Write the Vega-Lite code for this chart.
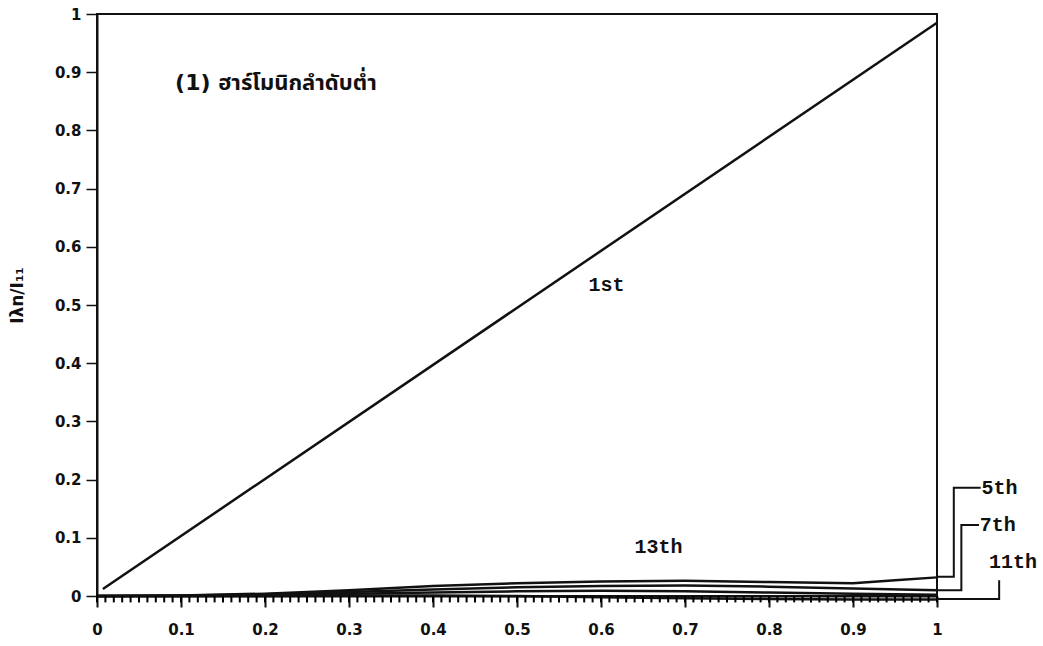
{
  "$schema": "https://vega.github.io/schema/vega-lite/v6.json",
  "width": 840,
  "height": 582,
  "autosize": "none",
  "padding": {"left": 97, "top": 14, "right": 106, "bottom": 50},
  "background": "white",
  "config": {
    "view": {"stroke": "#111", "strokeWidth": 2},
    "axis": {"labelFont": "DejaVu Sans", "labelFontWeight": "bold", "labelColor": "#111", "tickColor": "#111", "domainColor": "#111", "grid": false}
  },
  "datasets": {
    "curves": [
      {"series": "1st", "x": 0.007, "y": 0.012},
      {"series": "1st", "x": 1.0, "y": 0.985},
      {"series": "5th", "x": 0.0, "y": 0.0},
      {"series": "5th", "x": 0.1, "y": 0.001},
      {"series": "5th", "x": 0.2, "y": 0.004},
      {"series": "5th", "x": 0.3, "y": 0.01},
      {"series": "5th", "x": 0.4, "y": 0.017},
      {"series": "5th", "x": 0.5, "y": 0.022},
      {"series": "5th", "x": 0.6, "y": 0.025},
      {"series": "5th", "x": 0.7, "y": 0.026},
      {"series": "5th", "x": 0.8, "y": 0.024},
      {"series": "5th", "x": 0.9, "y": 0.022},
      {"series": "5th", "x": 0.95, "y": 0.027},
      {"series": "5th", "x": 1.0, "y": 0.032},
      {"series": "7th", "x": 0.0, "y": 0.0},
      {"series": "7th", "x": 0.1, "y": 0.001},
      {"series": "7th", "x": 0.2, "y": 0.003},
      {"series": "7th", "x": 0.3, "y": 0.007},
      {"series": "7th", "x": 0.4, "y": 0.011},
      {"series": "7th", "x": 0.5, "y": 0.015},
      {"series": "7th", "x": 0.6, "y": 0.017},
      {"series": "7th", "x": 0.7, "y": 0.018},
      {"series": "7th", "x": 0.8, "y": 0.016},
      {"series": "7th", "x": 0.9, "y": 0.013},
      {"series": "7th", "x": 1.0, "y": 0.01},
      {"series": "13th", "x": 0.0, "y": 0.0},
      {"series": "13th", "x": 0.1, "y": 0.0},
      {"series": "13th", "x": 0.2, "y": 0.002},
      {"series": "13th", "x": 0.3, "y": 0.004},
      {"series": "13th", "x": 0.4, "y": 0.006},
      {"series": "13th", "x": 0.5, "y": 0.008},
      {"series": "13th", "x": 0.6, "y": 0.009},
      {"series": "13th", "x": 0.7, "y": 0.008},
      {"series": "13th", "x": 0.8, "y": 0.006},
      {"series": "13th", "x": 0.9, "y": 0.004},
      {"series": "13th", "x": 1.0, "y": 0.002},
      {"series": "11th", "x": 0.0, "y": 0.0},
      {"series": "11th", "x": 0.1, "y": 0.0},
      {"series": "11th", "x": 0.2, "y": 0.0},
      {"series": "11th", "x": 0.3, "y": 0.001},
      {"series": "11th", "x": 0.4, "y": 0.001},
      {"series": "11th", "x": 0.5, "y": 0.0},
      {"series": "11th", "x": 0.6, "y": -0.002},
      {"series": "11th", "x": 0.7, "y": -0.004},
      {"series": "11th", "x": 0.8, "y": -0.005},
      {"series": "11th", "x": 0.9, "y": -0.006},
      {"series": "11th", "x": 1.0, "y": -0.006}
    ],
    "connectors": [
      {"series": "5th", "o": 1, "x": 1.0, "y": 0.033},
      {"series": "5th", "o": 2, "x": 1.02, "y": 0.033},
      {"series": "5th", "o": 3, "x": 1.02, "y": 0.186},
      {"series": "5th", "o": 4, "x": 1.052, "y": 0.186},
      {"series": "7th", "o": 1, "x": 1.0, "y": 0.01},
      {"series": "7th", "o": 2, "x": 1.029, "y": 0.01},
      {"series": "7th", "o": 3, "x": 1.029, "y": 0.122},
      {"series": "7th", "o": 4, "x": 1.05, "y": 0.122},
      {"series": "11th", "o": 1, "x": 1.0, "y": -0.005},
      {"series": "11th", "o": 2, "x": 1.074, "y": -0.005},
      {"series": "11th", "o": 3, "x": 1.074, "y": 0.027}
    ],
    "minor": [
      {"x":0},{"x":0.01},{"x":0.02},{"x":0.03},{"x":0.04},{"x":0.05},{"x":0.06},{"x":0.07},{"x":0.08},{"x":0.09},
      {"x":0.1},{"x":0.11},{"x":0.12},{"x":0.13},{"x":0.14},{"x":0.15},{"x":0.16},{"x":0.17},{"x":0.18},{"x":0.19},
      {"x":0.2},{"x":0.21},{"x":0.22},{"x":0.23},{"x":0.24},{"x":0.25},{"x":0.26},{"x":0.27},{"x":0.28},{"x":0.29},
      {"x":0.3},{"x":0.31},{"x":0.32},{"x":0.33},{"x":0.34},{"x":0.35},{"x":0.36},{"x":0.37},{"x":0.38},{"x":0.39},
      {"x":0.4},{"x":0.41},{"x":0.42},{"x":0.43},{"x":0.44},{"x":0.45},{"x":0.46},{"x":0.47},{"x":0.48},{"x":0.49},
      {"x":0.5},{"x":0.51},{"x":0.52},{"x":0.53},{"x":0.54},{"x":0.55},{"x":0.56},{"x":0.57},{"x":0.58},{"x":0.59},
      {"x":0.6},{"x":0.61},{"x":0.62},{"x":0.63},{"x":0.64},{"x":0.65},{"x":0.66},{"x":0.67},{"x":0.68},{"x":0.69},
      {"x":0.7},{"x":0.71},{"x":0.72},{"x":0.73},{"x":0.74},{"x":0.75},{"x":0.76},{"x":0.77},{"x":0.78},{"x":0.79},
      {"x":0.8},{"x":0.81},{"x":0.82},{"x":0.83},{"x":0.84},{"x":0.85},{"x":0.86},{"x":0.87},{"x":0.88},{"x":0.89},
      {"x":0.9},{"x":0.91},{"x":0.92},{"x":0.93},{"x":0.94},{"x":0.95},{"x":0.96},{"x":0.97},{"x":0.98},{"x":0.99},
      {"x":1}
    ],
    "labels": [
      {"label": "5th", "x": 1.053, "y": 0.186},
      {"label": "7th", "x": 1.051, "y": 0.122},
      {"label": "11th", "x": 1.062, "y": 0.058},
      {"label": "13th", "x": 0.64, "y": 0.085},
      {"label": "1st", "x": 0.585, "y": 0.535}
    ],
    "title": [
      {"label": "(1) ฮาร์โมนิกลำดับต่ำ", "x": 0.093, "y": 0.881}
    ]
  },
  "layer": [
    {
      "data": {"name": "curves"},
      "mark": {"type": "line", "color": "#111", "strokeWidth": 2.5, "clip": false},
      "encoding": {
        "x": {"field": "x", "type": "quantitative", "scale": {"domain": [0, 1], "nice": false},
          "axis": {"title": null, "values": [0, 0.1, 0.2, 0.3, 0.4, 0.5, 0.6, 0.7, 0.8, 0.9, 1], "format": "~g", "labelFlush": false,
            "tickSize": 11, "tickWidth": 2, "domainWidth": 2, "labelFontSize": 15, "labelPadding": 15}},
        "y": {"field": "y", "type": "quantitative", "scale": {"domain": [0, 1], "nice": false},
          "axis": {"title": "Iλn/I₁₁", "values": [0, 0.1, 0.2, 0.3, 0.4, 0.5, 0.6, 0.7, 0.8, 0.9, 1], "format": "~g", "tickSize": 11, "tickWidth": 1.5, "domainWidth": 2, "labelFontSize": 15, "labelPadding": 5, "labelFlush": false,
            "titleFont": "DejaVu Sans", "titleFontWeight": "bold", "titleFontSize": 17, "titleColor": "#111", "titleX": -80, "titleY": 281, "titleAngle": -90, "titleAlign": "center", "titleBaseline": "middle"}},
        "detail": {"field": "series"}
      }
    },
    {
      "data": {"name": "minor"},
      "mark": {"type": "rule", "color": "#000", "strokeWidth": 2, "clip": false},
      "encoding": {
        "x": {"field": "x", "type": "quantitative"},
        "y": {"datum": 0},
        "y2": {"datum": -0.011}
      }
    },
    {
      "data": {"name": "connectors"},
      "mark": {"type": "line", "color": "#111", "strokeWidth": 2, "clip": false},
      "encoding": {
        "x": {"field": "x", "type": "quantitative"},
        "y": {"field": "y", "type": "quantitative"},
        "detail": {"field": "series"},
        "order": {"field": "o", "type": "quantitative"}
      }
    },
    {
      "data": {"name": "labels"},
      "mark": {"type": "text", "align": "left", "baseline": "middle", "font": "Liberation Mono", "fontWeight": "bold", "fontSize": 20, "color": "#111", "clip": false},
      "encoding": {
        "x": {"field": "x", "type": "quantitative"},
        "y": {"field": "y", "type": "quantitative"},
        "text": {"field": "label"}
      }
    },
    {
      "data": {"name": "title"},
      "mark": {"type": "text", "align": "left", "baseline": "middle", "font": "DejaVu Sans, Noto Sans Thai, sans-serif", "fontWeight": "bold", "fontSize": 22, "color": "#111"},
      "encoding": {
        "x": {"field": "x", "type": "quantitative"},
        "y": {"field": "y", "type": "quantitative"},
        "text": {"field": "label"}
      }
    }
  ]
}
